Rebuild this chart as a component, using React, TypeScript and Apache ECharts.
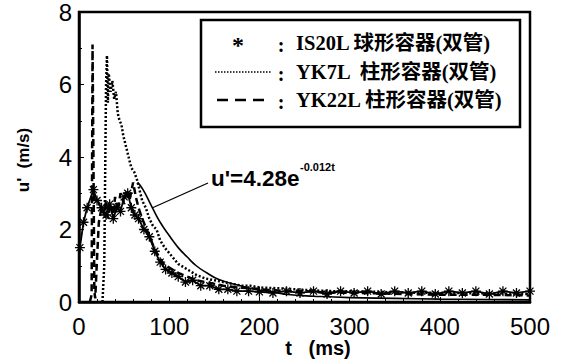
import React, { useEffect, useRef } from "react";
import * as echarts from "echarts";

const xTicks = [0, 100, 200, 300, 400, 500];
const yTicks = [0, 2, 4, 6, 8];

const legendNames = ["IS20L 球形容器(双管)", "YK7L  柱形容器(双管)", "YK22L 柱形容器(双管)"];

// IS20L spherical vessel (asterisks)
const is20L: [number, number][] = [
  [1, 1.5], [5, 2.2], [9, 2.6], [16, 3.1], [20, 2.8], [25, 2.6], [30, 2.4], [34, 2.7], [38, 2.3],
  [42, 2.6], [46, 2.5], [50, 2.9], [54, 3.0], [58, 2.6], [62, 2.4], [66, 2.3], [72, 2.0], [78, 1.8],
  [84, 1.4], [90, 1.1], [96, 0.9], [103, 0.8], [110, 0.7], [118, 0.55], [126, 0.6], [135, 0.45],
  [145, 0.45], [155, 0.35], [165, 0.35], [175, 0.3], [188, 0.3], [200, 0.28], [215, 0.25], [230, 0.3],
  [245, 0.25], [260, 0.3], [275, 0.22], [290, 0.3], [305, 0.25], [320, 0.3], [335, 0.22], [350, 0.3],
  [365, 0.25], [380, 0.3], [395, 0.22], [410, 0.3], [425, 0.25], [440, 0.3], [455, 0.22], [470, 0.3],
  [485, 0.25], [500, 0.3],
];

// YK7L cylindrical vessel (dotted)
const yk7L: [number, number][] = [
  [26, 0], [28, 1], [29, 3.5], [30, 6.0], [31, 6.8], [32, 5.5], [33, 6.3], [35, 5.8], [37, 6.1],
  [39, 5.6], [41, 5.8], [43, 5.2], [45, 5.0], [47, 4.9], [49, 4.6], [52, 4.3], [55, 4.0], [58, 3.7],
  [61, 3.6], [64, 3.4], [67, 3.1], [70, 2.8], [74, 2.6], [78, 2.3], [82, 2.1], [86, 2.0], [90, 1.7],
  [95, 1.5], [100, 1.35], [105, 1.2], [110, 1.05], [120, 0.9], [130, 0.75], [140, 0.65], [150, 0.6],
  [160, 0.55], [170, 0.5], [180, 0.45], [190, 0.45], [200, 0.4], [220, 0.38], [240, 0.35], [260, 0.32],
  [280, 0.3], [300, 0.3], [330, 0.28], [360, 0.26], [400, 0.25], [450, 0.24], [500, 0.22],
];

// YK22L cylindrical vessel (dashed)
const yk22L: [number, number][] = [
  [12, 0], [14, 0.2], [15, 7.1], [16, 4], [17, 0.3], [18, 0.1], [20, 1.2], [22, 2.2], [25, 2.6],
  [28, 2.4], [30, 2.8], [32, 2.3], [35, 2.7], [38, 2.4], [40, 2.9], [43, 2.5], [46, 3.0], [50, 2.7],
  [53, 3.1], [56, 2.8], [60, 3.3], [63, 2.9], [66, 2.6], [70, 2.3], [75, 2.0], [80, 1.7], [85, 1.4],
  [90, 1.2], [95, 1.0], [100, 0.95], [110, 0.8], [120, 0.7], [130, 0.6], [140, 0.55], [150, 0.5],
  [160, 0.45], [175, 0.4], [190, 0.38], [210, 0.33], [230, 0.3], [250, 0.3], [270, 0.27], [300, 0.25],
  [330, 0.24], [360, 0.22], [400, 0.2], [450, 0.2], [500, 0.18],
];

// fitted curve u'=4.28e^(-0.012t) as drawn
const fitCurve: [number, number][] = [
  [65, 3.3], [71, 3.1], [81, 2.62], [90, 2.2], [101, 1.8], [110, 1.5], [120, 1.24], [130, 1.0],
  [142, 0.8], [155, 0.62], [176, 0.47], [195, 0.35], [213, 0.28], [235, 0.2], [260, 0.16],
  [300, 0.12], [350, 0.1], [400, 0.08], [450, 0.07], [500, 0.06],
];

const ASTERISK = "path://M5,0L5,10M0,5L10,5M1.5,1.5L8.5,8.5M8.5,1.5L1.5,8.5";

export default function App() {
  const ref = useRef<HTMLDivElement>(null);
  useEffect(() => {
    if (!ref.current) return;
    const chart = echarts.init(ref.current, undefined, { renderer: "svg" });
    const serifCJK = "'Liberation Serif','Times New Roman','Noto Sans CJK SC'";
    const sans = "'Liberation Sans', Arial, sans-serif";
    const legendRows = [43, 72, 100];
    chart.setOption({
      animation: false,
      backgroundColor: "#fff",
      grid: {
        left: 79, right: 34, top: 11, bottom: 60,
        show: true, borderColor: "#000", borderWidth: 2.5,
      },
      xAxis: {
        type: "value", min: xTicks[0], max: xTicks[xTicks.length - 1], interval: 100,
        axisLine: { show: true, lineStyle: { color: "#000", width: 2.5 } },
        axisTick: { show: true, inside: true, length: 5, lineStyle: { color: "#000" } },
        minorTick: { show: true, splitNumber: 5, length: 3, lineStyle: { color: "#000" } },
        splitLine: { show: false },
        axisLabel: { color: "#000", fontSize: 24, fontFamily: sans, margin: 12 },
      },
      yAxis: {
        type: "value", min: yTicks[0], max: yTicks[yTicks.length - 1], interval: 2,
        axisLine: { show: true, lineStyle: { color: "#000", width: 2.5 } },
        axisTick: { show: true, inside: true, length: 5, lineStyle: { color: "#000" } },
        minorTick: { show: true, splitNumber: 2, length: 3, lineStyle: { color: "#000" } },
        splitLine: { show: false },
        axisLabel: { color: "#000", fontSize: 24, fontFamily: sans, margin: 7 },
      },
      series: [
        {
          name: legendNames[0], type: "line", data: is20L,
          symbol: ASTERISK, symbolSize: 10, showAllSymbol: true,
          lineStyle: { color: "#000", width: 1.8 },
          itemStyle: { color: "none", borderColor: "#000", borderWidth: 1.3 },
        },
        {
          name: legendNames[1], type: "line", data: yk7L, showSymbol: false,
          lineStyle: { color: "#000", width: 2.5, type: [2, 2] },
        },
        {
          name: legendNames[2], type: "line", data: yk22L, showSymbol: false,
          lineStyle: { color: "#000", width: 2.5, type: [7, 4] },
        },
        {
          name: "fit", type: "line", data: fitCurve, showSymbol: false, smooth: true,
          lineStyle: { color: "#000", width: 1.6 },
        },
      ],
      graphic: [
        {
          type: "rect", z: 100,
          shape: { x: 201, y: 20, width: 319, height: 107 },
          style: { fill: "#fff", stroke: "#000", lineWidth: 2.5 },
        },
        {
          type: "text", z: 101, x: 238, y: legendRows[0] + 2,
          style: { text: "*", font: `bold 24px ${serifCJK}`, fill: "#000", align: "center", verticalAlign: "middle" },
        },
        {
          type: "line", z: 101,
          shape: { x1: 215, y1: legendRows[1], x2: 272, y2: legendRows[1] },
          style: { stroke: "#000", lineWidth: 1.5, lineDash: [1.5, 1.5] },
        },
        {
          type: "line", z: 101,
          shape: { x1: 217, y1: legendRows[2], x2: 268, y2: legendRows[2] },
          style: { stroke: "#000", lineWidth: 2.5, lineDash: [11, 7] },
        },
        ...legendRows.map((y) => ({
          type: "text", z: 101, x: 281, y: y + 2,
          style: { text: ":", font: `bold 20px ${serifCJK}`, fill: "#000", align: "center", verticalAlign: "middle" },
        })),
        ...legendRows.map((y, i) => ({
          type: "text", z: 101, x: 296, y,
          style: { text: legendNames[i], font: `bold 20.5px ${serifCJK}`, fill: "#000", align: "left", verticalAlign: "middle" },
        })),
        {
          type: "line", z: 50,
          shape: { x1: 208, y1: 183, x2: 152, y2: 208 },
          style: { stroke: "#000", lineWidth: 1.3 },
        },
        {
          type: "text", z: 50, x: 211, y: 178,
          style: { text: "u'=4.28e", font: `bold 22.5px ${sans}`, fill: "#000", align: "left", verticalAlign: "middle" },
        },
        {
          type: "text", z: 50, x: 300, y: 167,
          style: { text: "-0.012t", font: `bold 11px ${sans}`, fill: "#000", align: "left", verticalAlign: "middle" },
        },
        {
          type: "text", x: 318, y: 348,
          style: { text: "t   (ms)", font: `bold 20px ${sans}`, fill: "#000", align: "center", verticalAlign: "middle" },
        },
        {
          type: "text", x: 23, y: 160, rotation: Math.PI / 2,
          style: { text: "u'  (m/s)", font: `bold 17px ${sans}`, fill: "#000", align: "center", verticalAlign: "middle" },
        },
      ],
    });
    return () => chart.dispose();
  }, []);
  return <div ref={ref} style={{ width: 564, height: 362, position: "absolute", left: 0, top: 0 }} />;
}
